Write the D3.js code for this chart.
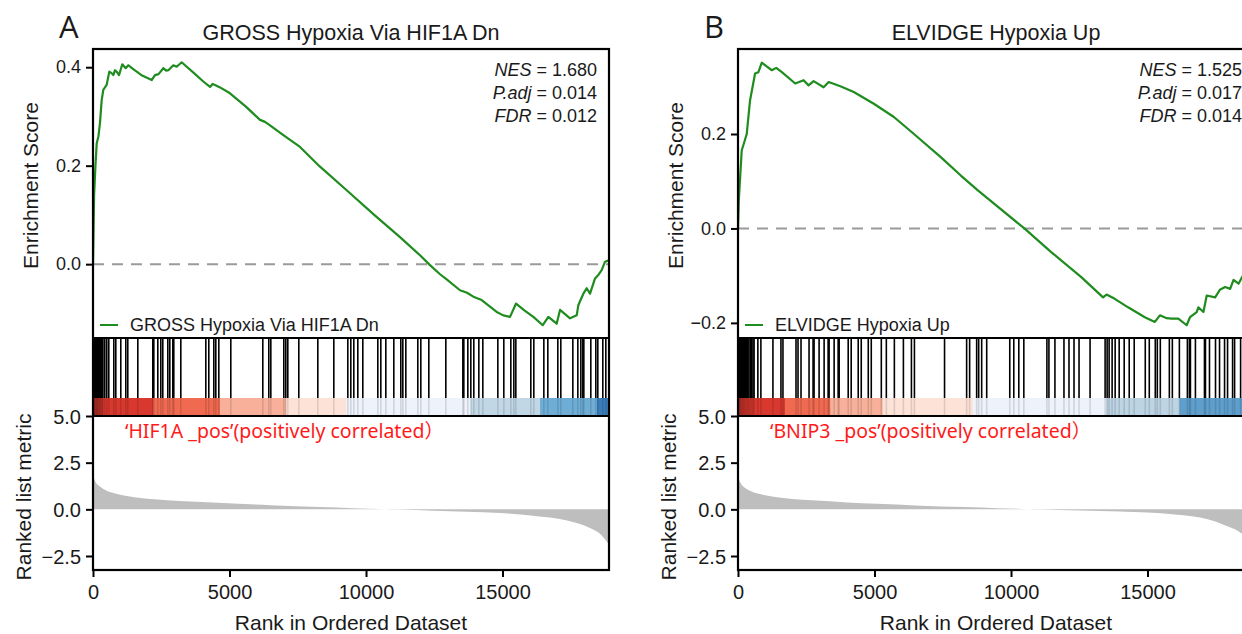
<!DOCTYPE html>
<html>
<head>
<meta charset="utf-8">
<script src="https://cdn.jsdelivr.net/npm/d3@7"></script>
<style>
body { margin: 0; background: #fff; }
svg text { font-family: "Liberation Sans", Arial, sans-serif; fill: #1a1a1a; }
</style>
</head>
<body>
<div id="chart"></div>
<script>
// Two GSEA running-score plots side by side

var titles = ["GROSS Hypoxia Via HIF1A Dn", "ELVIDGE Hypoxia Up"];
var letters = ["A", "B"];
var nesValues = ["1.680", "1.525"];
var padjValues = ["0.014", "0.017"];
var fdrValues = ["0.012", "0.014"];
var posLabels = ["\u2018HIF1A _pos\u2019(positively correlated\uff09",
                 "\u2018BNIP3 _pos\u2019(positively correlated\uff09"];

var rankTicks = [0, 5000, 10000, 15000];
var metricTicks = [-2.5, 0, 2.5, 5];
var esTicksA = [0, 0.2, 0.4];
var esTicksB = [-0.2, 0, 0.2];

// running enrichment score, [rank, score]
var esA = [[0,0],[40,0.14],[90,0.2],[135,0.245],[200,0.26],[256,0.287],[318,0.333],[377,0.354],[500,0.364],[597,0.391],[680,0.388],[744,0.384],[806,0.394],[880,0.39],[952,0.384],[1073,0.406],[1197,0.398],[1293,0.404],[1450,0.397],[1600,0.391],[1800,0.383],[2150,0.374],[2271,0.384],[2400,0.386],[2576,0.398],[2680,0.393],[2760,0.394],[2942,0.404],[3065,0.401],[3248,0.41],[3370,0.404],[3700,0.388],[4040,0.371],[4286,0.36],[4380,0.366],[4469,0.364],[4652,0.359],[5018,0.347],[5600,0.32],[6117,0.293],[6300,0.289],[6484,0.282],[6972,0.262],[7582,0.238],[8315,0.198],[9292,0.15],[10300,0.1],[11245,0.055],[11978,0.018],[12344,-0.002],[12700,-0.02],[12955,-0.031],[13443,-0.053],[13700,-0.058],[13931,-0.066],[14237,-0.073],[14786,-0.097],[15030,-0.104],[15275,-0.107],[15495,-0.08],[15800,-0.094],[16130,-0.107],[16474,-0.124],[16679,-0.107],[16984,-0.121],[17106,-0.093],[17473,-0.11],[17717,-0.104],[17778,-0.083],[17961,-0.06],[18083,-0.049],[18205,-0.06],[18388,-0.029],[18510,-0.022],[18632,-0.012],[18755,0.005],[18900,0.008]];

var esB = [[0,0],[30,0.06],[136,0.165],[320,0.2],[441,0.271],[625,0.328],[747,0.331],[871,0.351],[1050,0.343],[1239,0.335],[1400,0.34],[1607,0.331],[2096,0.307],[2401,0.314],[2585,0.303],[2769,0.312],[3137,0.299],[3320,0.31],[3750,0.301],[4240,0.289],[4975,0.264],[5710,0.236],[6445,0.2],[7426,0.151],[8162,0.112],[8775,0.081],[10489,0.0],[11471,-0.05],[12574,-0.103],[13371,-0.146],[13500,-0.14],[13799,-0.149],[14289,-0.167],[14901,-0.188],[15269,-0.198],[15453,-0.184],[15700,-0.19],[15882,-0.191],[16127,-0.191],[16434,-0.205],[16556,-0.188],[16801,-0.177],[16863,-0.167],[17047,-0.177],[17169,-0.142],[17476,-0.146],[17650,-0.13],[17843,-0.124],[18027,-0.128],[18150,-0.109],[18334,-0.117],[18529,-0.096],[18700,-0.08],[18900,-0.06]];

// gene set member ranks
var hitsA = [0,15,30,50,70,90,110,130,150,175,200,225,250,280,310,335,403,476,549,733,806,989,1172,1245,1612,2161,2198,2344,2454,2527,2711,2784,2894,2930,3187,4103,4212,4396,4469,4579,5018,6190,6410,6484,6960,7033,7106,7509,8205,8791,9304,9414,9524,9670,9853,10403,10513,10696,10989,11245,11319,11429,11868,11978,12271,12894,13517,13553,13700,13810,13919,14103,14249,14799,15018,15275,15385,15458,16007,16117,16484,16630,16996,17106,17546,17729,17839,17912,17949,18205,18388,18461,18644,18754];

var hitsB = [0,20,40,60,90,120,150,180,210,250,290,330,370,420,470,520,560,698,809,1250,1544,1617,2095,2169,2279,2573,2720,2757,2941,3125,3272,3308,3492,3639,3676,4007,4117,4374,4485,4742,4852,5220,5404,5698,6029,6323,6433,7536,8345,8455,8712,8786,8896,9080,9925,10072,10256,10440,11285,11359,11579,11910,12094,12278,12462,12866,13417,13491,13564,13674,13785,13932,14116,14300,14483,14888,15035,15255,15329,15439,15770,15880,16137,16431,16505,16542,16725,17056,17093,17240,17461,17608,17792,17902,18086,18160,18380,18560,18700,18850];

// colour band under the hits
var bandBreaksA = [0, 2198, 4652, 7069, 9267, 13846, 16374, 18461, 18900];
var bandColorsA = ["#d8382e", "#ef6a50", "#f8b09a", "#fde3d7", "#edf2fb", "#c1d7e5", "#6eadd6", "#3a7dba"];
var bandBreaksB = [0, 1727, 3382, 5294, 8602, 13491, 16174, 18900];
var bandColorsB = ["#d8382e", "#ef6a50", "#f8b09a", "#fde3d7", "#edf2fb", "#bdd4e4", "#5f9fcd"];

// ranked list metric, [rank, value]
var metricA = [[0,1.85],[40,1.65],[100,1.45],[256,1.22],[500,1.0],[623,0.93],[1000,0.78],[1465,0.66],[2000,0.57],[2711,0.49],[4000,0.39],[5128,0.31],[6500,0.22],[8315,0.12],[9500,0.06],[10700,0.01],[11200,-0.01],[12454,-0.07],[13700,-0.13],[14908,-0.2],[16117,-0.34],[17363,-0.6],[18205,-1.0],[18600,-1.35],[18830,-1.75],[18900,-1.9]];
var metricB = [[0,1.85],[40,1.6],[100,1.4],[250,1.15],[500,0.95],[1000,0.75],[1500,0.64],[2000,0.56],[2700,0.48],[4000,0.37],[5100,0.3],[6500,0.21],[8300,0.12],[9500,0.06],[10600,0.01],[11100,-0.01],[12500,-0.06],[14000,-0.12],[15000,-0.17],[16000,-0.28],[17240,-0.55],[17830,-0.85],[18300,-1.15],[18530,-1.4],[18750,-1.8],[18900,-2.1]];

var WIDTH = 1242;
var HEIGHT = 634;
var N_GENES = 18900;

var PW = 516;
var TOP = 49;
var ES_BOTTOM = 338;
var HIT_BOTTOM = 398;
var BAND_BOTTOM = 416;
var BOTTOM = 570;

var GREEN = "#1f8c1f";

var svg = d3.select("#chart").append("svg")
    .attr("width", WIDTH)
    .attr("height", HEIGHT);

function panel(p) {
    var g = svg.append("g");
    var L = p.left;

    var x = d3.scaleLinear().domain([0, N_GENES]).range([L, L + PW]);
    var yEs = d3.scaleLinear().domain(p.esDomain).range([ES_BOTTOM, TOP]);
    var yM = d3.scaleLinear().domain([-3.25, 5]).range([BOTTOM, BAND_BOTTOM]);

    var clipId = "clip" + p.letter;
    svg.append("clipPath").attr("id", clipId)
        .append("rect")
        .attr("x", L).attr("y", TOP)
        .attr("width", PW).attr("height", ES_BOTTOM - TOP);

    // panel letter and title
    g.append("text")
        .attr("x", p.letterX).attr("y", 38)
        .style("font-family", "'Open Sans', sans-serif")
        .style("font-size", "31px")
        .text(p.letter);
    g.append("text")
        .attr("x", L + PW / 2).attr("y", 40)
        .attr("text-anchor", "middle")
        .style("font-size", "21.5px")
        .text(p.title);

    // zero line
    g.append("line")
        .attr("x1", L).attr("x2", L + PW)
        .attr("y1", yEs(0)).attr("y2", yEs(0))
        .attr("stroke", "#9a9a9a")
        .attr("stroke-width", 2)
        .attr("stroke-dasharray", "11,8");

    // enrichment score curve
    var line = d3.line()
        .x(function(d) { return x(d[0]); })
        .y(function(d) { return yEs(d[1]); });
    g.append("path")
        .datum(p.es)
        .attr("clip-path", "url(#" + clipId + ")")
        .attr("fill", "none")
        .attr("stroke", GREEN)
        .attr("stroke-width", 2.2)
        .attr("stroke-linejoin", "round")
        .attr("d", line);

    // stats
    var stats = [["NES", p.nes], ["P.adj", p.padj], ["FDR", p.fdr]];
    stats.forEach(function(s, i) {
        var t = g.append("text")
            .attr("x", L + PW - 12)
            .attr("y", 76 + i * 23)
            .attr("text-anchor", "end")
            .style("font-size", "18px");
        t.append("tspan").style("font-style", "italic").text(s[0]);
        t.append("tspan").text(" = " + s[1]);
    });

    // legend
    g.append("line")
        .attr("x1", L + 7).attr("x2", L + 25)
        .attr("y1", 325).attr("y2", 325)
        .attr("stroke", GREEN).attr("stroke-width", 2);
    g.append("text")
        .attr("x", L + 37).attr("y", 331)
        .style("font-size", "18px")
        .text(p.title);

    // colour band
    var segs = p.bandColors.map(function(c, i) {
        return { x0: p.bandBreaks[i], x1: p.bandBreaks[i + 1], color: c };
    });
    g.selectAll("rect.band")
        .data(segs)
        .enter().append("rect")
        .attr("class", "band")
        .attr("x", function(d) { return x(d.x0); })
        .attr("width", function(d) { return x(d.x1) - x(d.x0) + 0.5; })
        .attr("y", HIT_BOTTOM)
        .attr("height", BAND_BOTTOM - HIT_BOTTOM)
        .attr("fill", function(d) { return d.color; });

    // hits
    g.selectAll("line.hit")
        .data(p.hits)
        .enter().append("line")
        .attr("class", "hit")
        .attr("x1", function(d) { return x(d) + 0.8; })
        .attr("x2", function(d) { return x(d) + 0.8; })
        .attr("y1", ES_BOTTOM)
        .attr("y2", HIT_BOTTOM)
        .attr("stroke", "#000")
        .attr("stroke-width", 1.6);
    g.selectAll("line.hitband")
        .data(p.hits)
        .enter().append("line")
        .attr("class", "hitband")
        .attr("x1", function(d) { return x(d) + 0.8; })
        .attr("x2", function(d) { return x(d) + 0.8; })
        .attr("y1", HIT_BOTTOM)
        .attr("y2", BAND_BOTTOM)
        .attr("stroke", "#000")
        .attr("stroke-opacity", 0.12)
        .attr("stroke-width", 1.6);

    // ranked list metric
    var area = d3.area()
        .x(function(d) { return x(d[0]); })
        .y0(yM(0))
        .y1(function(d) { return yM(d[1]); })
        .curve(d3.curveMonotoneX);
    g.append("path")
        .datum(p.metric)
        .attr("fill", "#bebebe")
        .attr("d", area);

    g.append("text")
        .attr("x", L + 32).attr("y", 438)
        .style("font-family", "'Noto Sans', 'Noto Sans CJK SC', sans-serif")
        .style("font-size", "19.5px")
        .style("fill", "#ff1a1a")
        .text(p.posLabel);

    // frame
    var frame = g.append("g")
        .attr("fill", "none")
        .attr("stroke", "#000")
        .attr("stroke-width", 2.2);
    frame.append("rect")
        .attr("x", L).attr("y", TOP)
        .attr("width", PW).attr("height", BOTTOM - TOP);
    frame.append("line")
        .attr("x1", L).attr("x2", L + PW)
        .attr("y1", ES_BOTTOM).attr("y2", ES_BOTTOM);
    frame.append("line")
        .attr("x1", L).attr("x2", L + PW)
        .attr("y1", BAND_BOTTOM).attr("y2", BAND_BOTTOM);

    // axes
    var esAxis = g.append("g")
        .attr("transform", "translate(" + L + ",0)")
        .call(d3.axisLeft(yEs).tickValues(p.esTicks).tickFormat(d3.format(".1f")).tickSizeOuter(0).tickSize(7).tickPadding(5));
    var mAxis = g.append("g")
        .attr("transform", "translate(" + L + ",0)")
        .call(d3.axisLeft(yM).tickValues(metricTicks).tickFormat(d3.format(".1f")).tickSizeOuter(0).tickSize(7).tickPadding(5));
    var xAxis = g.append("g")
        .attr("transform", "translate(0," + BOTTOM + ")")
        .call(d3.axisBottom(x).tickValues(rankTicks).tickFormat(d3.format("d")).tickSizeOuter(0).tickSize(7).tickPadding(8));

    [esAxis, mAxis, xAxis].forEach(function(a) {
        a.select(".domain").remove();
        a.selectAll(".tick line").attr("stroke", "#000").attr("stroke-width", 2);
        a.selectAll(".tick text").style("fill", "#1a1a1a").style("font-family", "'Liberation Sans', Arial, sans-serif");
    });
    esAxis.selectAll(".tick text").style("font-size", "18px");
    mAxis.selectAll(".tick text").style("font-size", "20px").attr("dy", "0.36em");
    xAxis.selectAll(".tick text").style("font-size", "20px");

    // axis titles
    g.append("text")
        .attr("transform", "translate(" + (L - 55) + "," + ((TOP + ES_BOTTOM) / 2 - 8) + ") rotate(-90)")
        .attr("text-anchor", "middle")
        .style("font-size", "21px")
        .text("Enrichment Score");
    g.append("text")
        .attr("transform", "translate(" + (L - 62) + "," + ((BAND_BOTTOM + BOTTOM) / 2 + 4) + ") rotate(-90)")
        .attr("text-anchor", "middle")
        .style("font-size", "21px")
        .text("Ranked list metric");
    g.append("text")
        .attr("x", L + PW / 2).attr("y", 630)
        .attr("text-anchor", "middle")
        .style("font-size", "21px")
        .text("Rank in Ordered Dataset");
}

panel({ left: 93, letter: letters[0], letterX: 59, title: titles[0],
        nes: nesValues[0], padj: padjValues[0], fdr: fdrValues[0],
        esDomain: [-0.150, 0.437], esTicks: esTicksA, es: esA, hits: hitsA,
        bandBreaks: bandBreaksA, bandColors: bandColorsA,
        metric: metricA, posLabel: posLabels[0] });

panel({ left: 738, letter: letters[1], letterX: 704, title: titles[1],
        nes: nesValues[1], padj: padjValues[1], fdr: fdrValues[1],
        esDomain: [-0.232, 0.38], esTicks: esTicksB, es: esB, hits: hitsB,
        bandBreaks: bandBreaksB, bandColors: bandColorsB,
        metric: metricB, posLabel: posLabels[1] });
</script>
</body>
</html>
